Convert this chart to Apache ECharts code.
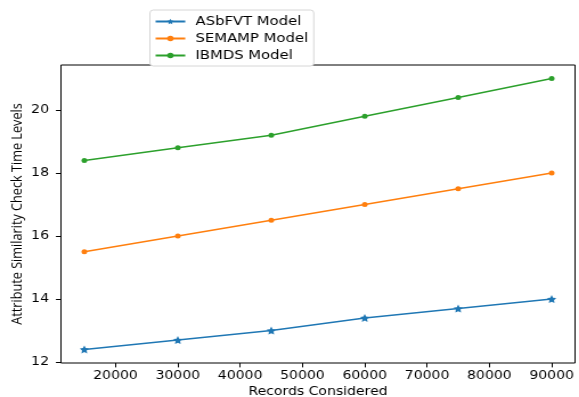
<!DOCTYPE html>
<html><head><meta charset="utf-8">
<script src="https://cdn.jsdelivr.net/npm/echarts@6/dist/echarts.min.js"></script>
<style>html,body{margin:0;padding:0;background:#fff;overflow:hidden}#c{width:508px;height:397px;transform:scaleX(1.1398);transform-origin:0 0}</style>
</head><body><div id="c"></div>
<script>
const records = [15000, 30000, 45000, 60000, 75000, 90000];
const asbfvt = [12.4, 12.7, 13.0, 13.4, 13.7, 14.0];
const semamp = [15.5, 16.0, 16.5, 17.0, 17.5, 18.0];
const ibmds = [18.4, 18.8, 19.2, 19.8, 20.4, 21.0];
const xTicks = [20000, 30000, 40000, 50000, 60000, 70000, 80000, 90000];
const yTicks = [12, 14, 16, 18, 20];
const names = ['ASbFVT Model', 'SEMAMP Model', 'IBMDS Model'];

const pair = arr => records.map((r, i) => [r, arr[i]]);
const font = 'DejaVu Sans';
const chart = echarts.init(document.getElementById('c'));
chart.setOption({
  animation: false,
  grid: {left: 53.5, right: 3.5, top: 65, bottom: 34, outerBoundsMode: 'none', containLabel: false, show: true, borderColor: '#000', borderWidth: 1, backgroundColor: 'transparent'},
  legend: {
    left: 131.5, top: 10, orient: 'vertical', itemGap: 2, itemWidth: 26, itemHeight: 7,
    backgroundColor: '#fff', borderColor: '#d6d6d6', borderWidth: 1, borderRadius: 3,
    padding: [4, 5, 3, 4],
    textStyle: {fontFamily: font, fontSize: 13, color: '#000', lineHeight: 15, padding: [0, 0, 0, 4]},
    data: names
  },
  xAxis: {
    type: 'value', min: 11250, max: 93750,
    name: 'Records Considered', nameLocation: 'middle', nameGap: 23, nameMoveOverlap: false,
    nameTextStyle: {fontFamily: font, fontSize: 12.3, color: '#000'},
    axisLine: {show: false},
    axisTick: {show: true, inside: false, length: 4.4, lineStyle: {color: '#000'}, customValues: xTicks},
    axisLabel: {fontFamily: font, fontSize: 12.3, color: '#000', margin: 7, customValues: xTicks, formatter: v => String(v)},
    splitLine: {show: false}
  },
  yAxis: {
    type: 'value', min: 11.97, max: 21.43,
    name: 'Attribute Similarity Check Time Levels', nameLocation: 'middle', nameGap: 31.5, nameMoveOverlap: false,
    nameTextStyle: {fontFamily: 'Open Sans', fontSize: 12.7, color: '#000'},
    axisLine: {show: false},
    axisTick: {show: true, inside: false, length: 4.4, lineStyle: {color: '#000'}, customValues: yTicks},
    axisLabel: {fontFamily: font, fontSize: 12.3, color: '#000', margin: 10.5, customValues: yTicks},
    splitLine: {show: false}
  },
  series: [
    {name: names[0], type: 'line', data: pair(asbfvt), color: '#1f77b4', symbol: 'path://M0,-10L2.9,-4L9.5,-3.1L4.8,1.5L5.9,8.1L0,5L-5.9,8.1L-4.8,1.5L-9.5,-3.1L-2.9,-4Z', symbolSize: 8, showSymbol: true, lineStyle: {width: 1.5}},
    {name: names[1], type: 'line', data: pair(semamp), color: '#ff7f0e', symbol: 'circle', symbolSize: 5, lineStyle: {width: 1.5}},
    {name: names[2], type: 'line', data: pair(ibmds), color: '#2ca02c', symbol: 'circle', symbolSize: 5, lineStyle: {width: 1.5}}
  ]
});
</script></body></html>
